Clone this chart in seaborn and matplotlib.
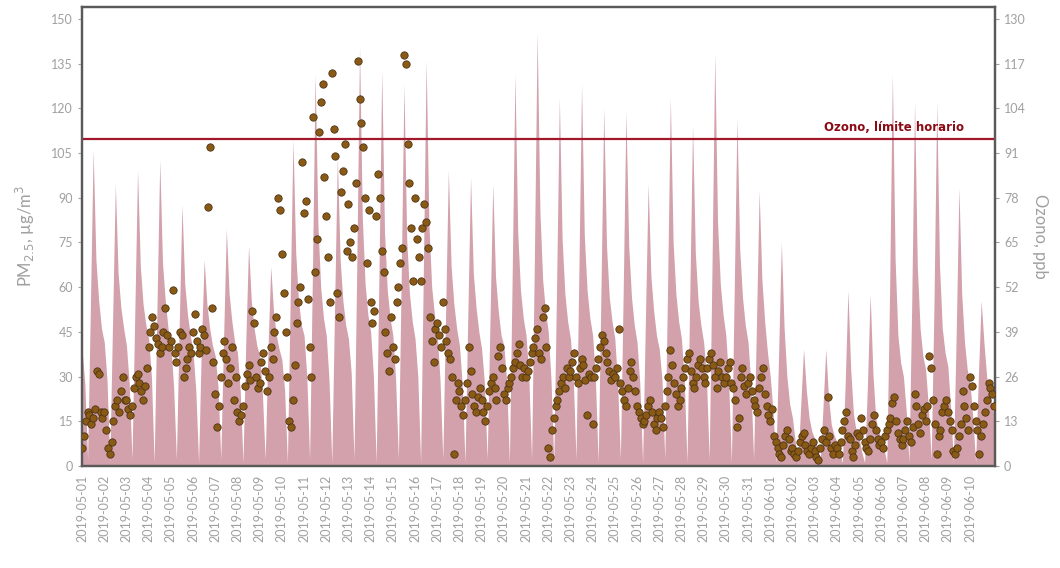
"""PM2.5 y ozono horario, mayo-junio 2019"""
import matplotlib
matplotlib.use("Agg")
import matplotlib.pyplot as plt
import matplotlib.dates as mdates
import pandas as pd
import seaborn as sns

# PM2.5 cada 2 horas (ug/m3), una fila por dia desde 2019-05-01
pm25 = [
    6, 10, 15, 18, 17, 14, 16, 19, 32, 31, 18, 16,     # 05-01
    18, 12, 6, 4, 8, 15, 20, 22, 18, 25, 30, 22,       # 05-02
    22, 19, 17, 20, 26, 30, 31, 28, 25, 22, 27, 33,    # 05-03
    40, 45, 50, 47, 43, 41, 38, 40, 45, 53, 44, 40,    # 05-04
    42, 59, 38, 35, 40, 45, 44, 30, 33, 36, 40, 38,    # 05-05
    45, 51, 42, 38, 40, 46, 44, 39, 87, 107, 53, 35,   # 05-06
    24, 13, 20, 30, 38, 42, 36, 28, 33, 40, 22, 30,    # 05-07
    18, 15, 17, 20, 27, 31, 34, 29, 52, 48, 30, 26,    # 05-08
    28, 35, 38, 32, 25, 30, 40, 36, 45, 50, 90, 86,    # 05-09
    71, 58, 45, 30, 15, 13, 22, 34, 48, 55, 60, 102,   # 05-10
    85, 89, 56, 40, 30, 117, 65, 76, 112, 122, 128, 97,  # 05-11
    84, 70, 55, 132, 113, 104, 58, 50, 92, 99, 108, 72,  # 05-12
    88, 75, 70, 80, 95, 136, 123, 115, 107, 90, 68, 86,  # 05-13
    55, 48, 52, 84, 98, 90, 72, 65, 45, 38, 32, 50,    # 05-14
    40, 36, 55, 60, 68, 73, 138, 135, 108, 95, 80, 62,  # 05-15
    90, 76, 70, 62, 80, 88, 82, 73, 50, 42, 35, 46,    # 05-16
    48, 44, 40, 55, 46, 42, 38, 36, 30, 4, 22, 28,     # 05-17
    25, 20, 17, 22, 28, 40, 32, 24, 20, 18, 23, 26,    # 05-18
    22, 18, 15, 20, 25, 28, 30, 26, 22, 37, 40, 33,    # 05-19
    24, 22, 26, 28, 30, 33, 35, 38, 41, 34, 30, 33,    # 05-20
    30, 32, 35, 38, 40, 43, 46, 38, 36, 50, 53, 40,    # 05-21
    6, 3, 12, 16, 20, 22, 25, 28, 30, 26, 33, 30,      # 05-22
    32, 35, 38, 30, 28, 33, 36, 34, 29, 17, 31, 30,    # 05-23
    14, 30, 33, 36, 40, 44, 42, 38, 35, 32, 29, 31,    # 05-24
    30, 33, 46, 28, 25, 22, 20, 26, 32, 35, 30, 25,    # 05-25
    20, 18, 16, 14, 15, 17, 20, 22, 18, 14, 12, 16,    # 05-26
    18, 16, 13, 20, 25, 30, 39, 34, 28, 24, 20, 22,    # 05-27
    26, 30, 33, 36, 38, 32, 28, 26, 30, 34, 36, 33,    # 05-28
    30, 28, 33, 36, 38, 34, 30, 26, 32, 35, 30, 28,    # 05-29
    30, 33, 35, 28, 26, 22, 13, 16, 30, 33, 27, 24,    # 05-30
    28, 30, 25, 22, 20, 18, 26, 30, 33, 24, 20, 17,    # 05-31
    15, 19, 10, 8, 6, 4, 3, 7, 10, 12, 9, 5,           # 06-01
    6, 4, 3, 5, 8, 10, 11, 7, 5, 4, 6, 8,              # 06-02
    5, 3, 2, 6, 9, 12, 8, 23, 10, 6, 4, 7,             # 06-03
    6, 4, 8, 12, 15, 18, 10, 9, 5, 3, 7, 11,           # 06-04
    10, 16, 12, 8, 6, 5, 9, 14, 17, 12, 9, 7,          # 06-05
    8, 6, 10, 12, 14, 16, 21, 23, 15, 11, 9, 7,        # 06-06
    9, 12, 15, 10, 8, 13, 24, 20, 14, 11, 17, 19,      # 06-07
    15, 20, 37, 33, 22, 14, 4, 10, 12, 18, 20, 22,     # 06-08
    18, 15, 12, 5, 4, 6, 10, 14, 25, 20, 16, 12,       # 06-09
    30, 27, 20, 15, 12, 4, 10, 14, 18, 22, 28, 26,     # 06-10
    24, 20,                                            # 06-11
]

# Ozono cada 3 horas (ppb), una fila por dia desde 2019-05-01
ozono = [
    34, 24, 2, 46, 92, 60, 48, 40,      # 05-01
    36, 25, 1, 42, 82, 56, 46, 40,      # 05-02
    35, 24, 2, 44, 86, 58, 47, 41,      # 05-03
    37, 26, 1, 46, 89, 59, 48, 40,      # 05-04
    35, 23, 2, 40, 76, 53, 44, 38,      # 05-05
    33, 22, 1, 35, 60, 47, 40, 35,      # 05-06
    32, 23, 2, 37, 69, 50, 42, 36,      # 05-07
    33, 22, 1, 36, 64, 48, 40, 35,      # 05-08
    32, 21, 2, 34, 58, 45, 38, 34,      # 05-09
    31, 22, 1, 48, 95, 62, 48, 41,      # 05-10
    38, 26, 2, 55, 114, 70, 52, 43,     # 05-11
    38, 25, 1, 46, 90, 60, 48, 41,      # 05-12
    37, 27, 2, 58, 122, 72, 53, 44,     # 05-13
    39, 26, 1, 56, 115, 68, 51, 43,     # 05-14
    38, 25, 2, 54, 111, 66, 50, 42,     # 05-15
    37, 26, 1, 57, 118, 70, 52, 44,     # 05-16
    38, 25, 2, 44, 86, 58, 47, 40,      # 05-17
    35, 24, 1, 43, 84, 56, 46, 39,      # 05-18
    34, 24, 2, 42, 82, 55, 45, 38,      # 05-19
    35, 25, 1, 55, 114, 68, 51, 43,     # 05-20
    38, 26, 2, 60, 126, 74, 54, 45,     # 05-21
    39, 25, 1, 52, 107, 66, 50, 42,     # 05-22
    37, 26, 2, 54, 111, 67, 51, 43,     # 05-23
    38, 25, 1, 51, 104, 64, 49, 42,     # 05-24
    37, 24, 2, 50, 103, 64, 49, 41,     # 05-25
    36, 24, 1, 42, 82, 55, 45, 38,      # 05-26
    34, 25, 2, 52, 107, 65, 50, 42,     # 05-27
    37, 25, 1, 49, 99, 62, 48, 41,      # 05-28
    36, 26, 2, 57, 120, 71, 53, 44,     # 05-29
    38, 25, 1, 50, 101, 63, 49, 41,     # 05-30
    36, 24, 2, 40, 80, 54, 42, 33,      # 05-31
    26, 16, 1, 32, 65, 40, 26, 18,      # 06-01
    14, 7, 1, 18, 34, 22, 14, 10,       # 06-02
    8, 5, 1, 17, 34, 20, 12, 9,         # 06-03
    7, 4, 1, 24, 51, 28, 15, 10,        # 06-04
    8, 4, 1, 23, 50, 27, 14, 10,        # 06-05
    8, 5, 1, 50, 114, 60, 38, 30,       # 06-06
    26, 16, 1, 48, 106, 58, 40, 32,     # 06-07
    28, 17, 2, 47, 106, 58, 40, 33,     # 06-08
    29, 17, 1, 38, 81, 50, 36, 28,      # 06-09
    24, 14, 1, 26, 48, 36, 26, 20,      # 06-10
    18, 12,                             # 06-11
]

LIMITE_OZONO = 95  # ppb
TEXTO_LIMITE = "Ozono, límite horario"

df_pm = pd.DataFrame({"fecha": pd.date_range("2019-05-01", periods=len(pm25), freq="2h"),
                      "pm25": pm25})
df_o3 = pd.DataFrame({"fecha": pd.date_range("2019-05-01", periods=len(ozono), freq="3h"),
                      "ozono": ozono})
dias = pd.date_range("2019-05-01", "2019-06-10", freq="D")

sns.set_style("white")
plt.rcParams["font.family"] = ["Lato", "DejaVu Sans"]

gris = "#a0a0a0"
fig = plt.figure(figsize=(10.6, 5.68), dpi=100)
ax = fig.add_axes([0.0774, 0.1796, 0.8613, 0.8081])
ax2 = ax.twinx()

# area de ozono (eje derecho)
ax2.fill_between(df_o3["fecha"], 0, df_o3["ozono"], color="#d3a1ab", lw=0, zorder=1)
ax2.axhline(LIMITE_OZONO, color="#a3172c", lw=1.6, zorder=3)
ax2.text(pd.Timestamp("2019-06-09 17:00"), LIMITE_OZONO + 1.5, TEXTO_LIMITE,
         ha="right", va="bottom", color="#8b0a14", fontsize=8.5,
         fontweight="bold", family="DejaVu Sans")

# puntos de PM2.5 por encima del area
ax.set_zorder(ax2.get_zorder() + 1)
ax.patch.set_visible(False)
sns.scatterplot(data=df_pm, x="fecha", y="pm25", ax=ax, color="#8a5a14",
                edgecolor="#4b3418", linewidth=0.6, s=28, zorder=4, legend=False)

ymax = 154
ax.set_ylim(0, ymax)
ax.set_yticks(range(0, 151, 15))
ax2.set_ylim(0, ymax * 130 / 150)
ax2.set_yticks(range(0, 131, 13))
ax.set_xlim(pd.Timestamp("2019-05-01 00:00"), pd.Timestamp("2019-06-11 03:00"))
ax.set_xticks(dias)
ax.xaxis.set_major_formatter(mdates.DateFormatter("%Y-%m-%d"))

ax.set_xlabel("")
ax.set_ylabel("PM$_{2.5}$, µg/m$^3$", color=gris, fontsize=12, labelpad=10)
ax2.set_ylabel("Ozono, ppb", color=gris, fontsize=12, rotation=270, labelpad=16)

for a in (ax, ax2):
    a.tick_params(colors=gris, labelsize=9, length=3, width=0.8)
    for sp in a.spines.values():
        sp.set_color("#5a5a5a")
        sp.set_linewidth(1.6)
ax.tick_params(axis="x", labelrotation=90)

plt.savefig("out.png", dpi=100)
